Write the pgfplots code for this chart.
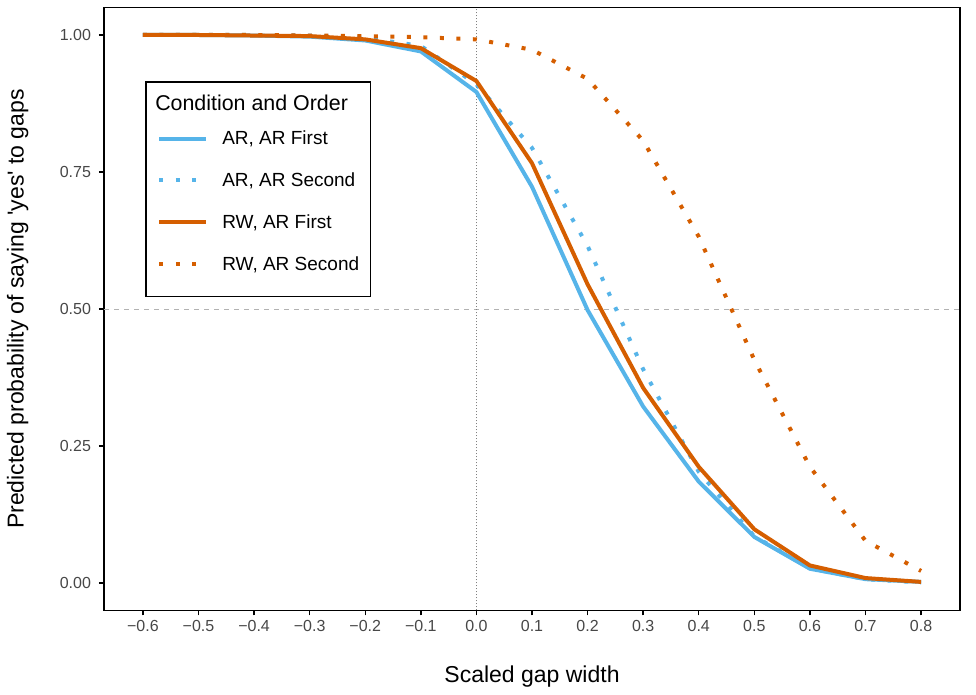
\documentclass[border=0pt]{standalone}
\usepackage{fontspec}
\setmainfont{Liberation Sans}
\usepackage{pgfplots}
\pgfplotsset{compat=1.18}
\definecolor{cblue}{HTML}{56B4E9}
\definecolor{corange}{HTML}{D55E00}
\begin{document}
\begin{tikzpicture}[x=1pt,y=1pt]
\path[use as bounding box] (0,0) rectangle (976,695);
\begin{axis}[
  at={(104pt,84.6pt)}, anchor=south west,
  scale only axis, width=856pt, height=602.8pt,
  xmin=-0.67, xmax=0.87, ymin=-0.05, ymax=1.05,
  xtick={-0.6,-0.5,-0.4,-0.3,-0.2,-0.1,0,0.1,0.2,0.3,0.4,0.5,0.6,0.7,0.8},
  xticklabels={−0.6,−0.5,−0.4,−0.3,−0.2,−0.1,0.0,0.1,0.2,0.3,0.4,0.5,0.6,0.7,0.8},
  ytick={0,0.25,0.5,0.75,1},
  yticklabels={0.00,0.25,0.50,0.75,1.00},
  xtick pos=bottom, ytick pos=left,
  tick align=outside, major tick length=5pt,
  tick style={black, line width=1.4pt},
  axis line style={black, line width=1.4pt},
  ticklabel style={font=\fontsize{16}{19}\selectfont, text=black!72},
  yticklabel style={xshift=-4.5pt},
  xticklabel style={yshift=-1.5pt},
  xlabel={Scaled gap width},
  ylabel={Predicted probability of saying \textquotesingle yes\textquotesingle\ to gaps},
  label style={font=\fontsize{23}{27}\selectfont},
  xlabel style={at={(axis description cs:0.5,-0.1188)}, anchor=base},
  ylabel style={at={(axis description cs:-0.094,0.5)}, anchor=base},
  legend cell align=left,
  legend style={at={(axis description cs:0.0479,0.8782)}, anchor=north west,
    draw=black, line width=1.5pt, fill=white,
    inner xsep=11.5pt, inner ysep=11.7pt, row sep=0pt, column sep=14pt,
    nodes={inner sep=0pt},
    font=\fontsize{19}{22}\selectfont},
  legend image code/.code={\draw[#1] (0pt,0pt) -- (47pt,0pt);},
]
\addlegendimage{empty legend}
\addlegendentry[text height=17.2pt, text depth=7.1pt]{\hspace{-67pt}\fontsize{21.4}{25}\selectfont Condition and Order}

\addplot[forget plot, black!30, line width=0.8pt, dash pattern=on 5pt off 5pt] coordinates {(-0.67,0.5) (0.87,0.5)};
\addplot[forget plot, black!50, line width=0.8pt, dash pattern=on 1pt off 2pt] coordinates {(0,-0.05) (0,1.05)};

\addplot[cblue, line width=4pt, line join=round] coordinates {
(-0.6,1.000) (-0.5,1.000) (-0.4,0.999) (-0.3,0.997) (-0.2,0.990) (-0.1,0.970)
(0.0,0.896) (0.1,0.723) (0.2,0.498) (0.3,0.322) (0.4,0.185) (0.5,0.084)
(0.6,0.026) (0.7,0.007) (0.8,0.002)};
\addlegendentry[text height=27.2pt, text depth=14.5pt]{AR, AR First}

\addplot[cblue, line width=4pt, dash pattern=on 4pt off 12.5pt] coordinates {
(-0.6,1.000) (-0.5,1.000) (-0.4,1.000) (-0.3,0.999) (-0.2,0.995) (-0.1,0.980)
(0.0,0.910) (0.1,0.794) (0.2,0.615) (0.3,0.390) (0.4,0.203) (0.5,0.085)
(0.6,0.027) (0.7,0.007) (0.8,0.001)};
\addlegendentry[text height=27.2pt, text depth=14.5pt]{AR, AR Second}

\addplot[corange, line width=4pt, line join=round] coordinates {
(-0.6,1.000) (-0.5,1.000) (-0.4,0.999) (-0.3,0.998) (-0.2,0.992) (-0.1,0.976)
(0.0,0.916) (0.1,0.766) (0.2,0.545) (0.3,0.356) (0.4,0.212) (0.5,0.098)
(0.6,0.032) (0.7,0.009) (0.8,0.002)};
\addlegendentry[text height=27.2pt, text depth=14.5pt]{RW, AR First}

\addplot[corange, line width=4pt, dash pattern=on 4pt off 12.5pt] coordinates {
(-0.6,1.000) (-0.5,1.000) (-0.4,1.000) (-0.3,0.999) (-0.2,0.998) (-0.1,0.996)
(0.0,0.992) (0.1,0.973) (0.2,0.920) (0.3,0.807) (0.4,0.632) (0.5,0.407)
(0.6,0.212) (0.7,0.077) (0.8,0.022)};
\addlegendentry[text height=27.2pt, text depth=14.5pt]{RW, AR Second}
\end{axis}
\end{tikzpicture}
\end{document}
